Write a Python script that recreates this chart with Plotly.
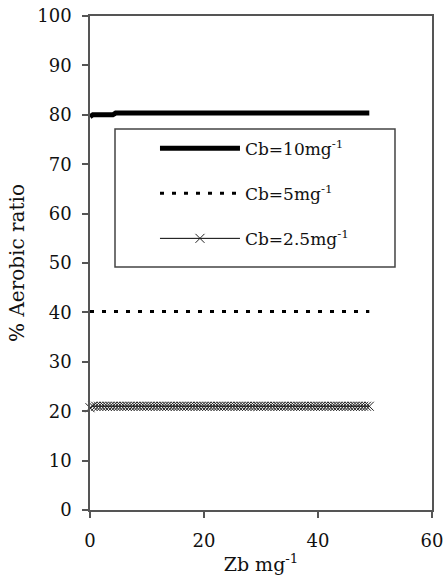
import plotly.graph_objects as go

# Zb concentration (mg^-1), sampled every 0.5 from 0 to 49
zb = [i * 0.5 for i in range(99)]

# % aerobic ratio for each bulk concentration Cb
cb10 = [
    79.6, 80.0, 80.0, 80.0, 80.0, 80.0, 80.0, 80.0, 80.0, 80.35,
    80.35, 80.35, 80.35, 80.35, 80.35, 80.35, 80.35, 80.35, 80.35, 80.35,
    80.35, 80.35, 80.35, 80.35, 80.35, 80.35, 80.35, 80.35, 80.35, 80.35,
    80.35, 80.35, 80.35, 80.35, 80.35, 80.35, 80.35, 80.35, 80.35, 80.35,
    80.35, 80.35, 80.35, 80.35, 80.35, 80.35, 80.35, 80.35, 80.35, 80.35,
    80.35, 80.35, 80.35, 80.35, 80.35, 80.35, 80.35, 80.35, 80.35, 80.35,
    80.35, 80.35, 80.35, 80.35, 80.35, 80.35, 80.35, 80.35, 80.35, 80.35,
    80.35, 80.35, 80.35, 80.35, 80.35, 80.35, 80.35, 80.35, 80.35, 80.35,
    80.35, 80.35, 80.35, 80.35, 80.35, 80.35, 80.35, 80.35, 80.35, 80.35,
    80.35, 80.35, 80.35, 80.35, 80.35, 80.35, 80.35, 80.35, 80.35,
]
cb5 = [
    40.2, 40.2, 40.2, 40.2, 40.2, 40.2, 40.2, 40.2, 40.2, 40.2,
    40.2, 40.2, 40.2, 40.2, 40.2, 40.2, 40.2, 40.2, 40.2, 40.2,
    40.2, 40.2, 40.2, 40.2, 40.2, 40.2, 40.2, 40.2, 40.2, 40.2,
    40.2, 40.2, 40.2, 40.2, 40.2, 40.2, 40.2, 40.2, 40.2, 40.2,
    40.2, 40.2, 40.2, 40.2, 40.2, 40.2, 40.2, 40.2, 40.2, 40.2,
    40.2, 40.2, 40.2, 40.2, 40.2, 40.2, 40.2, 40.2, 40.2, 40.2,
    40.2, 40.2, 40.2, 40.2, 40.2, 40.2, 40.2, 40.2, 40.2, 40.2,
    40.2, 40.2, 40.2, 40.2, 40.2, 40.2, 40.2, 40.2, 40.2, 40.2,
    40.2, 40.2, 40.2, 40.2, 40.2, 40.2, 40.2, 40.2, 40.2, 40.2,
    40.2, 40.2, 40.2, 40.2, 40.2, 40.2, 40.2, 40.2, 40.2,
]
cb25 = [
    20.7, 21.0, 21.0, 21.0, 21.0, 21.0, 21.0, 21.0, 21.0, 21.0,
    21.0, 21.0, 21.0, 21.0, 21.0, 21.0, 21.0, 21.0, 21.0, 21.0,
    21.0, 21.0, 21.0, 21.0, 21.0, 21.0, 21.0, 21.0, 21.0, 21.0,
    21.0, 21.0, 21.0, 21.0, 21.0, 21.0, 21.0, 21.0, 21.0, 21.0,
    21.0, 21.0, 21.0, 21.0, 21.0, 21.0, 21.0, 21.0, 21.0, 21.0,
    21.0, 21.0, 21.0, 21.0, 21.0, 21.0, 21.0, 21.0, 21.0, 21.0,
    21.0, 21.0, 21.0, 21.0, 21.0, 21.0, 21.0, 21.0, 21.0, 21.0,
    21.0, 21.0, 21.0, 21.0, 21.0, 21.0, 21.0, 21.0, 21.0, 21.0,
    21.0, 21.0, 21.0, 21.0, 21.0, 21.0, 21.0, 21.0, 21.0, 21.0,
    21.0, 21.0, 21.0, 21.0, 21.0, 21.0, 21.0, 21.0, 21.0,
]

series_names = ["Cb=10mg<sup>-1</sup>", "Cb=5mg<sup>-1</sup>", "Cb=2.5mg<sup>-1</sup>"]

FONT = "DejaVu Serif"
INK = "#111111"
FRAME = "#555555"

fig = go.Figure()
fig.add_trace(go.Scatter(
    x=zb, y=cb10, mode="lines", name=series_names[0], legendgroup="g1",
    line=dict(color="black", width=5), cliponaxis=False,
))
fig.add_trace(go.Scatter(
    x=zb, y=cb5, mode="lines", name=series_names[1], legendgroup="g2",
    line=dict(color="black", width=3, dash="4px,8px"), cliponaxis=False,
))
fig.add_trace(go.Scatter(
    x=zb, y=cb25, mode="lines+markers", name=series_names[2], legendgroup="g3",
    line=dict(color="black", width=1),
    marker=dict(symbol="x-thin", size=9, color="#222222",
                line=dict(width=1, color="#222222")),
    cliponaxis=False,
))

axis_common = dict(
    showline=True, mirror=True, linecolor=FRAME, linewidth=1.5,
    ticks="outside", ticklen=6, tickwidth=1.5, tickcolor=FRAME,
    showgrid=False, zeroline=False, automargin=False,
    ticklabeloverflow="allow",
    tickfont=dict(family=FONT, size=18, color=INK),
)

fig.update_xaxes(
    range=[0, 60], tick0=0, dtick=20, ticklabelstandoff=8,
    title=dict(text="Zb mg<sup>-1</sup>", font=dict(family=FONT, size=19, color=INK), standoff=7),
    **axis_common,
)
fig.update_yaxes(
    range=[0, 100], tick0=0, dtick=10, ticklabelstandoff=7,
    title=dict(text="% Aerobic ratio", font=dict(family=FONT, size=20, color=INK), standoff=7),
    **axis_common,
)

# Frame around the legend
fig.add_shape(
    type="rect", xref="paper", yref="paper",
    x0=0.0731, x1=0.8918, y0=0.4919, y1=0.7713,
    line=dict(color="#444444", width=1.5), fillcolor="rgba(0,0,0,0)",
)

fig.update_layout(
    width=443, height=583,
    margin=dict(l=90, r=11, t=16, b=73),
    paper_bgcolor="white", plot_bgcolor="white",
    font=dict(family=FONT, color=INK),
    legend=dict(
        x=0.19, y=0.768, xanchor="left", yanchor="top",
        bgcolor="rgba(0,0,0,0)", borderwidth=0,
        itemwidth=80, tracegroupgap=20,
        font=dict(family=FONT, size=17, color=INK),
    ),
)

fig.write_html("out.html")
